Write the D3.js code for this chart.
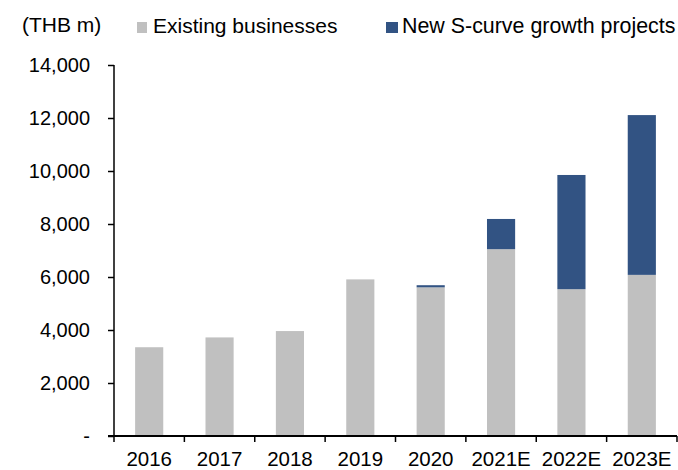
<!DOCTYPE html>
<html><head><meta charset="utf-8">
<script src="https://cdn.jsdelivr.net/npm/d3@7"></script>
<style>body{margin:0;background:#fff}svg{display:block}text{font-family:"Liberation Sans",Arial,sans-serif}</style>
</head><body><svg id="c" width="678" height="470"></svg>
<script>
const categories = ["2016","2017","2018","2019","2020","2021E","2022E","2023E"];
const existing = [3350, 3720, 3960, 5910, 5610, 7050, 5540, 6080];
const newScurve = [0, 0, 0, 0, 80, 1140, 4310, 6030];
const yTicks = [0, 2000, 4000, 6000, 8000, 10000, 12000, 14000];
const seriesNames = ["Existing businesses", "New S-curve growth projects"];
const colors = ["#c0c0c0", "#325383"];
const unitLabel = "(THB m)";

const svg = d3.select("#c");
const m = {l:114, r:1, t:65, b:34};
const W = 678, H = 470;
const x = d3.scaleBand().domain(categories).range([m.l, W - m.r]).paddingInner(0.6).paddingOuter(0.3);
const xb = d3.scaleLinear().domain([0, categories.length]).range([m.l, W - m.r]);
const y = d3.scaleLinear().domain([0, 14000]).range([H - m.b, m.t]);

const data = categories.map((c,i)=>({cat:c, existing:existing[i], newS:newScurve[i]}));
const stack = d3.stack().keys(["existing","newS"])(data);

svg.append("g").selectAll("g").data(stack).join("g")
  .attr("fill",(d,i)=>colors[i])
  .selectAll("rect").data(d=>d).join("rect")
  .attr("x",d=>x(d.data.cat))
  .attr("width",x.bandwidth())
  .attr("y",d=>y(d[1]))
  .attr("height",d=>Math.max(0,y(d[0])-y(d[1])));

// y axis
const ya = svg.append("g").attr("transform",`translate(${m.l},0)`)
  .call(d3.axisLeft(y).tickValues(yTicks).tickSize(6).tickPadding(18)
    .tickFormat(d=>d===0?"-":d3.format(",")(d)));
ya.selectAll("path,line").attr("stroke","#000").attr("stroke-width",1.5);
ya.select("path").attr("d",`M0,${y(14000)}V${y(0)}`);
ya.selectAll("text").attr("font-size",20).attr("fill","#000");

// x axis
const xg = svg.append("g").attr("transform",`translate(0,${y(0)})`);
xg.append("line").attr("x1",m.l-6).attr("x2",W-m.r).attr("stroke","#000").attr("stroke-width",2);
xg.selectAll("line.t").data(d3.range(categories.length+1)).join("line").attr("class","t")
  .attr("x1",d=>xb(d)).attr("x2",d=>xb(d)).attr("y1",0).attr("y2",6)
  .attr("stroke","#000").attr("stroke-width",1.5);
xg.selectAll("text").data(categories).join("text")
  .attr("x",d=>x(d)+x.bandwidth()/2).attr("y",30)
  .attr("text-anchor","middle").attr("font-size",20.5).text(d=>d);

// unit label & legend
svg.append("text").attr("x",22).attr("y",32).attr("font-size",21).text(unitLabel);
const legX = [137, 386];
const legW = [10, 12];
seriesNames.forEach((n,i)=>{
  svg.append("rect").attr("x",legX[i]).attr("y",22).attr("width",legW[i]).attr("height",11).attr("fill",colors[i]);
  svg.append("text").attr("x",legX[i]+legW[i]+(i?4:6)).attr("y",33).attr("font-size",i?21.4:21).text(n);
});
</script></body></html>
